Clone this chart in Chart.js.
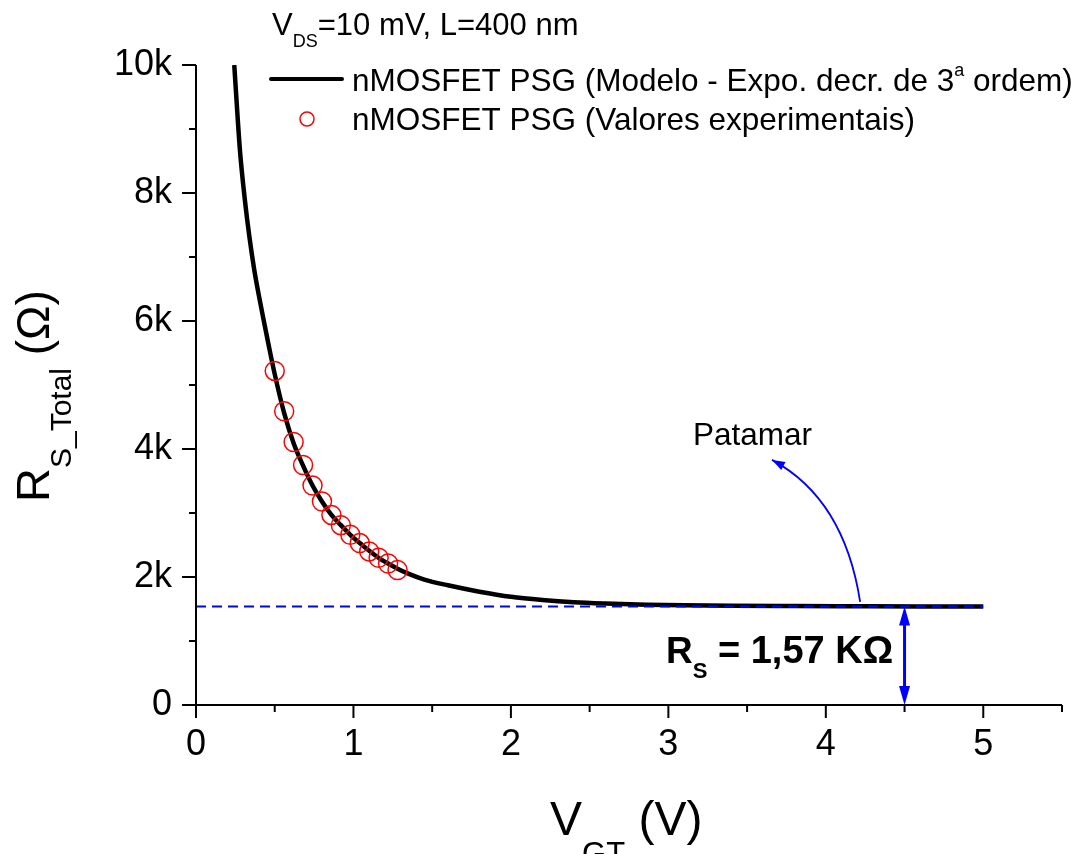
<!DOCTYPE html>
<html>
<head>
<meta charset="utf-8">
<script src="https://cdn.jsdelivr.net/npm/chart.js@4.4.1/dist/chart.umd.min.js"></script>
<style>
  html, body { margin: 0; padding: 0; background: #fff; }
  canvas { display: block; }
</style>
</head>
<body>
<canvas id="chart" width="1087" height="854"></canvas>
<script>
// model curve (3rd order exponential decay fit)
const modelX = [0.243, 0.279, 0.31, 0.34, 0.37, 0.40, 0.43, 0.46, 0.5, 0.56, 0.62, 0.68, 0.74, 0.8,
                0.86, 0.92, 0.98, 1.04, 1.1, 1.16, 1.22, 1.28, 1.34, 1.45, 1.6, 1.8, 2.0, 2.2, 2.4,
                2.6, 2.86, 3.1, 3.4, 3.8, 4.2, 4.6, 5.0];
const modelY = [10000, 8670, 7900, 7300, 6800, 6390, 6010, 5640, 5170, 4560, 4090, 3740, 3430, 3180,
                2970, 2810, 2660, 2530, 2410, 2300, 2210, 2130, 2060, 1960, 1870, 1770, 1690, 1640, 1605,
                1585, 1568, 1558, 1550, 1545, 1542, 1540, 1540];

// experimental values
const expX = [0.5, 0.56, 0.62, 0.68, 0.74, 0.8, 0.86, 0.92, 0.98, 1.04, 1.1, 1.16, 1.22, 1.28];
const expY = [5220, 4590, 4110, 3750, 3430, 3180, 2970, 2810, 2660, 2530, 2400, 2300, 2210, 2110];

// plateau (R_S)
const plateauX = [0, 5];
const plateauY = [1540, 1540];

const xMin = 0, xMax = 5.5;
const yMin = 0, yMax = 10000;

const FONT = '"Liberation Sans", Arial, Helvetica, sans-serif';
const BLUE = '#0000ff';

function toPoints(xs, ys) {
    return xs.map((x, i) => ({ x: x, y: ys[i] }));
}

function richText(ctx, x, y, parts) {
    let cx = x;
    parts.forEach(p => {
        ctx.font = (p.bold ? 'bold ' : '') + p.size + 'px ' + FONT;
        ctx.fillText(p.text, cx, y + (p.dy || 0));
        cx += ctx.measureText(p.text).width;
    });
    return cx;
}

function arrowHead(ctx, tipX, tipY, fromX, fromY, len, half) {
    const a = Math.atan2(tipY - fromY, tipX - fromX);
    const bx = tipX - len * Math.cos(a), by = tipY - len * Math.sin(a);
    ctx.beginPath();
    ctx.moveTo(tipX, tipY);
    ctx.lineTo(bx + half * Math.sin(a), by - half * Math.cos(a));
    ctx.lineTo(bx - half * Math.sin(a), by + half * Math.cos(a));
    ctx.closePath();
    ctx.fill();
}

const decorations = {
    id: 'decorations',
    afterDraw(chart) {
        const ctx = chart.ctx;
        const xs = chart.scales.x, ys = chart.scales.y;
        const area = chart.chartArea;
        ctx.save();

        // axes lines
        ctx.strokeStyle = '#000';
        ctx.lineWidth = 2;
        ctx.beginPath();
        ctx.moveTo(area.left, area.top);
        ctx.lineTo(area.left, area.bottom);
        ctx.lineTo(area.right, area.bottom);
        ctx.stroke();

        // tick marks (major + minor)
        for (let v = xMin; v <= xMax + 1e-9; v += 0.5) {
            const px = xs.getPixelForValue(v);
            const len = Number.isInteger(v) ? 13 : 7;
            ctx.beginPath();
            ctx.moveTo(px, area.bottom);
            ctx.lineTo(px, area.bottom + len);
            ctx.stroke();
        }
        for (let v = yMin; v <= yMax; v += 1000) {
            const py = ys.getPixelForValue(v);
            const len = (v % 2000 === 0) ? 14 : 7;
            ctx.beginPath();
            ctx.moveTo(area.left, py);
            ctx.lineTo(area.left - len, py);
            ctx.stroke();
        }

        ctx.fillStyle = '#000';
        ctx.textAlign = 'left';
        ctx.textBaseline = 'alphabetic';

        // top note
        richText(ctx, 272, 35, [
            { text: 'V', size: 31 },
            { text: 'DS', size: 18, dy: 12 },
            { text: '=10 mV, L=400 nm', size: 31 }
        ]);

        // legend
        ctx.lineWidth = 4;
        ctx.lineCap = 'round';
        ctx.beginPath();
        ctx.moveTo(271, 79);
        ctx.lineTo(342, 79);
        ctx.stroke();
        ctx.lineCap = 'butt';
        richText(ctx, 352, 91, [
            { text: 'nMOSFET PSG (Modelo - Expo. decr. de 3', size: 31.5 },
            { text: 'a', size: 18, dy: -15 },
            { text: ' ordem)', size: 31.5 }
        ]);
        ctx.strokeStyle = '#ff0000';
        ctx.lineWidth = 1.5;
        ctx.beginPath();
        ctx.arc(307, 119, 7, 0, Math.PI * 2);
        ctx.stroke();
        richText(ctx, 352, 130, [{ text: 'nMOSFET PSG (Valores experimentais)', size: 31.5 }]);

        // Patamar label + curved arrow
        richText(ctx, 693, 445, [{ text: 'Patamar', size: 31.5 }]);
        const p0x = xs.getPixelForValue(4.218), p0y = ys.getPixelForValue(1610);
        const cx = xs.getPixelForValue(4.117), cy = ys.getPixelForValue(3220);
        const p2x = xs.getPixelForValue(3.658), p2y = ys.getPixelForValue(3830);
        ctx.strokeStyle = BLUE;
        ctx.fillStyle = BLUE;
        ctx.lineWidth = 1.8;
        ctx.beginPath();
        ctx.moveTo(p0x, p0y);
        ctx.quadraticCurveTo(cx, cy, p2x, p2y);
        ctx.stroke();
        arrowHead(ctx, p2x, p2y, cx - (cx - p2x) * 0.4, cy - (cy - p2y) * 0.4, 13, 4.5);

        // R_S vertical double arrow
        const ax = xs.getPixelForValue(4.5);
        const aTop = ys.getPixelForValue(plateauY[0]);
        const aBot = ys.getPixelForValue(0);
        ctx.lineWidth = 3;
        ctx.beginPath();
        ctx.moveTo(ax, aTop + 16);
        ctx.lineTo(ax, aBot - 16);
        ctx.stroke();
        arrowHead(ctx, ax, aTop, ax, aTop + 30, 19, 5.5);
        arrowHead(ctx, ax, aBot, ax, aBot - 30, 19, 5.5);

        ctx.fillStyle = '#000';
        richText(ctx, 666, 663, [
            { text: 'R', size: 37, bold: true },
            { text: 'S', size: 22, bold: true, dy: 15 },
            { text: ' = 1,57 K\u03A9', size: 38, bold: true }
        ]);

        // axis titles
        richText(ctx, 550, 835, [
            { text: 'V', size: 48 },
            { text: 'GT', size: 31, dy: 29 },
            { text: ' (V)', size: 48 }
        ]);
        ctx.save();
        ctx.translate(49, 502);
        ctx.rotate(-Math.PI / 2);
        richText(ctx, 0, 0, [
            { text: 'R', size: 47 },
            { text: 'S_Total', size: 30, dy: 22 },
            { text: ' (\u03A9)', size: 46 }
        ]);
        ctx.restore();

        ctx.restore();
    }
};

const ctx = document.getElementById('chart').getContext('2d');

new Chart(ctx, {
    type: 'scatter',
    data: {
        datasets: [
            {
                label: 'nMOSFET PSG (Valores experimentais)',
                data: toPoints(expX, expY),
                pointStyle: 'circle',
                pointRadius: 9.5,
                pointBorderWidth: 1.5,
                pointBorderColor: '#ff0000',
                pointBackgroundColor: 'rgba(0,0,0,0)',
                showLine: false,
                order: 0
            },
            {
                label: 'Patamar',
                data: toPoints(plateauX, plateauY),
                showLine: true,
                borderColor: BLUE,
                borderWidth: 2,
                borderDash: [10, 6],
                pointRadius: 0,
                order: 1
            },
            {
                label: 'nMOSFET PSG (Modelo - Expo. decr. de 3a ordem)',
                data: toPoints(modelX, modelY),
                showLine: true,
                borderColor: '#000',
                borderWidth: 4.5,
                pointRadius: 0,
                cubicInterpolationMode: 'monotone',
                order: 2
            }
        ]
    },
    options: {
        responsive: false,
        animation: false,
        layout: { padding: { top: 65, right: 25, left: 0, bottom: 0 } },
        plugins: {
            legend: { display: false },
            tooltip: { enabled: false }
        },
        scales: {
            x: {
                type: 'linear',
                min: xMin,
                max: xMax,
                grid: { display: false, drawTicks: false },
                border: { display: false },
                ticks: {
                    stepSize: 0.5,
                    autoSkip: false,
                    maxRotation: 0,
                    padding: 18,
                    color: '#000',
                    font: { family: FONT, size: 36 },
                    callback: v => Number.isInteger(v) ? String(v) : ''
                },
                afterFit: s => { s.height = 149; }
            },
            y: {
                type: 'linear',
                min: yMin,
                max: yMax,
                grid: { display: false, drawTicks: false },
                border: { display: false },
                ticks: {
                    stepSize: 1000,
                    autoSkip: false,
                    padding: 24,
                    color: '#000',
                    font: { family: FONT, size: 36 },
                    callback: v => (v % 2000 !== 0) ? '' : (v === 0 ? '0' : (v / 1000) + 'k')
                },
                afterFit: s => { s.width = 196; }
            }
        }
    },
    plugins: [decorations]
});
</script>
</body>
</html>
